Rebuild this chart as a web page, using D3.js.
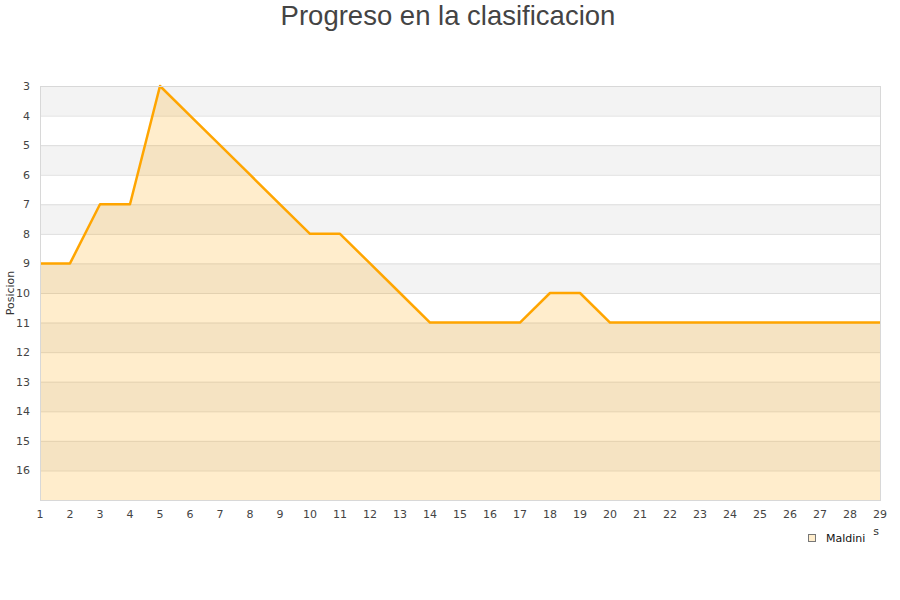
<!DOCTYPE html>
<html><head><meta charset="utf-8">
<script src="https://cdn.jsdelivr.net/npm/d3@7"></script>
<style>body{margin:0;background:#fff}</style>
</head><body>
<svg id="c" width="900" height="600"></svg>
<script>
const jornadas = [1,2,3,4,5,6,7,8,9,10,11,12,13,14,15,16,17,18,19,20,21,22,23,24,25,26,27,28,29];
const posiciones = [9,9,7,7,3,4,5,6,7,8,8,9,10,11,11,11,11,10,10,11,11,11,11,11,11,11,11,11,11];
const yTicks = [3,4,5,6,7,8,9,10,11,12,13,14,15,16];
const seriesName = "Maldini";
const chartTitle = "Progreso en la clasificacion";

const svg = d3.select("#c");
const m = {l:40, r:20, t:86, b:100};
const W = 900, H = 600;
const x = d3.scaleLinear().domain([1,29]).range([m.l, W-m.r]);
const y = d3.scaleLinear().domain([3,17]).range([m.t, H-m.b]);
const font = "'Liberation Sans', Arial, sans-serif";
const tfont = "'DejaVu Sans', Verdana, sans-serif";

// bands
const bands = d3.range(3,17);
svg.append("g").selectAll("rect").data(bands).join("rect")
  .attr("x", x(1)).attr("width", x(29)-x(1))
  .attr("y", d=>y(d)).attr("height", d=>y(d+1)-y(d))
  .attr("fill", d=> (d-3)%2===0 ? "#f3f3f3" : "#ffffff");
// grid
svg.append("g").selectAll("line").data(d3.range(4,17)).join("line")
  .attr("x1", x(1)).attr("x2", x(29))
  .attr("y1", d=>y(d)+0.5).attr("y2", d=>y(d)+0.5)
  .attr("stroke", "#dddddd").attr("stroke-width",1);

const data = jornadas.map((j,i)=>({j, p:posiciones[i]}));
svg.append("path").datum(data)
  .attr("d", d3.area().x(d=>x(d.j)).y0(y(17)).y1(d=>y(d.p)))
  .attr("fill", "rgba(255,165,0,0.2)");
svg.append("path").datum(data)
  .attr("d", d3.line().x(d=>x(d.j)).y(d=>y(d.p)))
  .attr("fill","none").attr("stroke","#ffa500").attr("stroke-width",2.5)
  .attr("stroke-linejoin","round");

// border
svg.append("rect").attr("x", x(1)+0.5).attr("y", y(3)+0.5)
  .attr("width", x(29)-x(1)).attr("height", y(17)-y(3))
  .attr("fill","none").attr("stroke","#d8d8d8");

// y tick labels
svg.append("g").selectAll("text").data(yTicks).join("text")
  .attr("x", 30).attr("y", d=>y(d)+4).attr("text-anchor","end")
  .attr("font-family", tfont).attr("font-size", 11).attr("fill","#444")
  .text(d=>d);
// x tick labels
svg.append("g").selectAll("text").data(jornadas).join("text")
  .attr("x", d=>x(d)).attr("y", 518).attr("text-anchor","middle")
  .attr("font-family", tfont).attr("font-size", 11).attr("fill","#444")
  .text(d=>d);

// titles
svg.append("text").attr("x", 448).attr("y", 25).attr("text-anchor","middle")
  .attr("font-family", font).attr("font-size", 27.5).attr("fill","#444")
  .text(chartTitle);
svg.append("text").attr("transform","translate(14,293) rotate(-90)")
  .attr("text-anchor","middle").attr("font-family", tfont).attr("font-size", 11).attr("fill","#333")
  .text("Posicion");
svg.append("defs").append("clipPath").attr("id","xt")
  .append("rect").attr("x", 873).attr("y", 515).attr("width", 30).attr("height", 40);
svg.append("text").attr("x", 879).attr("y", 535).attr("text-anchor","end")
  .attr("clip-path","url(#xt)")
  .attr("font-family", tfont).attr("font-size", 11).attr("fill","#333")
  .text("Jornadas");

// legend
const lg = svg.append("g");
lg.append("rect").attr("x", 808.5).attr("y", 534.5).attr("width", 7).attr("height", 7)
  .attr("fill","#ffedcc").attr("stroke","#777");
lg.append("text").attr("x", 826).attr("y", 542).attr("font-family", tfont).attr("font-size", 11).attr("fill","#111")
  .text(seriesName);
</script>
</body></html>
